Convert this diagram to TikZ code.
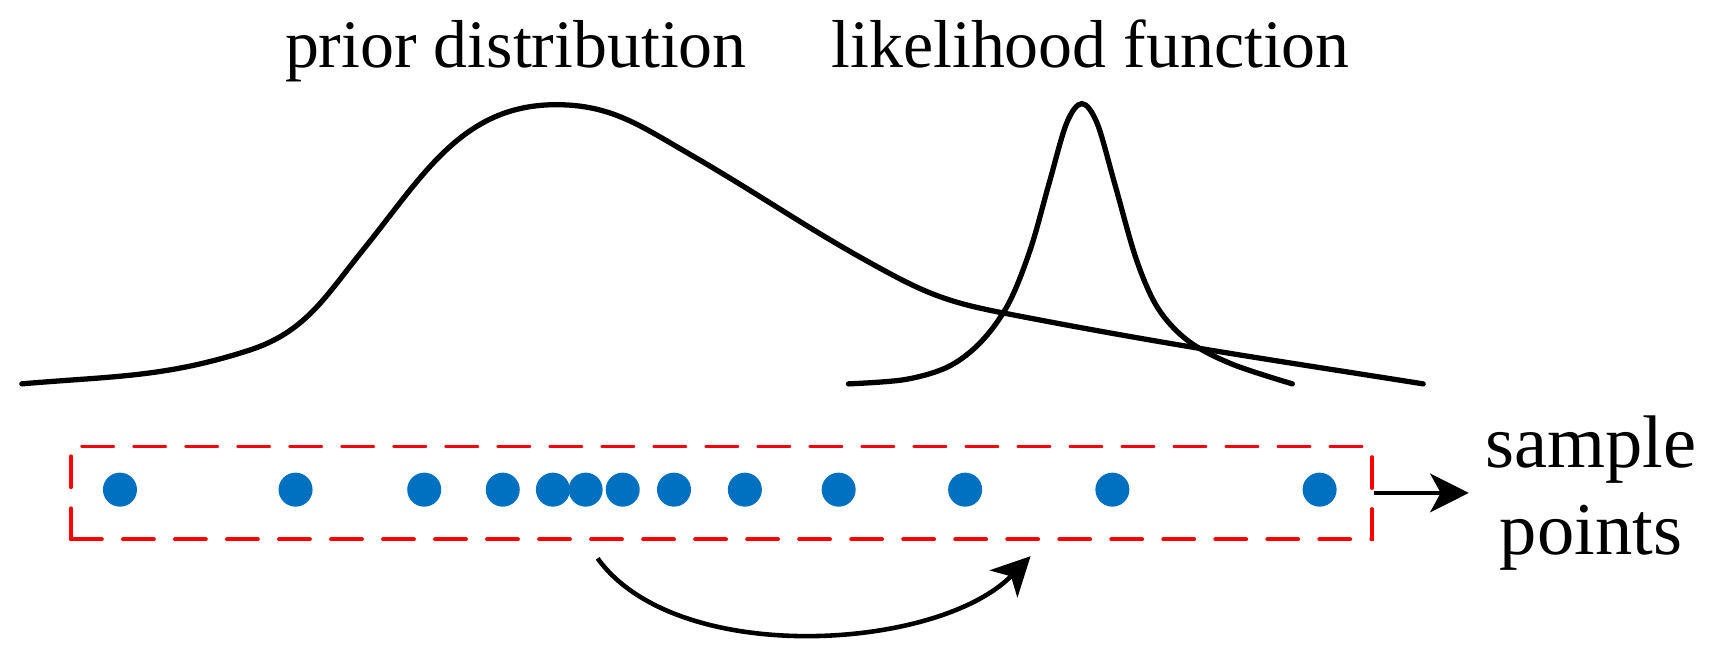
\documentclass[tikz,border=0pt]{standalone}
\usepackage{fontspec}
\setmainfont{Liberation Serif}
\usepackage{tikz}
\usetikzlibrary{calc}
\usetikzlibrary{arrows.meta}
\usetikzlibrary{positioning}
\definecolor{dotblue}{RGB}{0,112,192}
\tikzset{curve/.style = {black, line width=1.5pt, line cap=round}}
\tikzset{sample/.style = {dotblue}}
\tikzset{lbl/.style = {inner sep=0, font=\fontsize{19.3}{22}\selectfont}}
\tikzset{arr/.style = {black, line width=1.3pt, ->, >={Stealth[length=11pt, width=11pt, inset=3pt]}}}

\begin{document}
\begin{tikzpicture} [x=1.0906cm, y=1.0906cm]
\useasboundingbox (0,0) rectangle (15.68,5.98);
% curves
\draw[curve] (0.20,2.46) to[out=5,in=198] (2.29,2.77) to[out=18,in=231] (3.33,3.69) to[out=51,in=180] (5.10,5.02)
  to[out=0,in=150] (6.30,4.58) to[out=-30,in=152] (8.20,3.45) to[out=-28,in=169] (9.20,3.11) to[out=-11,in=171] (13.05,2.46);
\draw[curve] plot[smooth, tension=.55] coordinates {(7.78,2.46) (8.30,2.50) (8.70,2.62) (9.00,2.85) (9.25,3.20) (9.45,3.70) (9.62,4.30) (9.78,4.85) (9.92,5.03) (10.06,4.85) (10.22,4.30) (10.42,3.60) (10.62,3.15) (10.90,2.85) (11.30,2.64) (11.85,2.46)};
\node[lbl, anchor=base] (prior) at (4.73,5.36) {prior distribution};
\node[lbl, anchor=base] (likeli) at (10.0,5.36) {likelihood function};
% sample box
\node[draw=red, line width=1.1pt, line cap=round, dash pattern=on 8.8pt off 6pt, minimum width=13.01cm, minimum height=0.93cm, inner sep=0] (box) at (6.615,1.46) {};
\foreach \x in {1.10,2.71,3.89,4.61,5.07,5.37,5.71,6.18,6.83,7.69,8.85,10.20,12.10} {
  \fill[sample] (\x,1.49) circle (.156);
}
\node[align=center, inner sep=0, font=\fontsize{21.2}{24.8}\selectfont, right=1.11cm of box.east] (samples) {sample\\points};
\coordinate[right=0.95cm of box.east] (tip);
\draw[arr] (box.east)--(tip);
\coordinate (from) at (5.48,0.86);
\coordinate (to) at (9.45,0.88);
\draw[arr] (from) .. controls (6.2,-0.14) and (8.6,0.01) .. (to);
\end{tikzpicture}
\end{document}
